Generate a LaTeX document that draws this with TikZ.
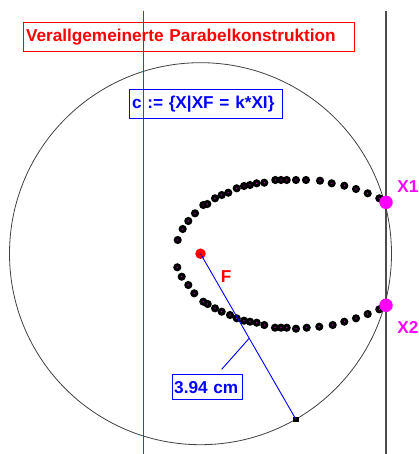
\documentclass[tikz,border=0pt]{standalone}
\usepackage{fontspec}
\setmainfont{Liberation Sans}
\usetikzlibrary{calc}
\definecolor{mag}{RGB}{255,0,255}
\definecolor{myred}{RGB}{255,0,0}
\definecolor{myblue}{RGB}{0,0,255}
\begin{document}
\begin{tikzpicture}[x=1pt,y=-1pt,
  lbl/.style={font=\fontsize{17.2}{19}\selectfont\bfseries, inner sep=0pt},
  boxlbl/.style={lbl, draw, line width=1pt, anchor=north west, align=left, inner xsep=1.5pt},
  hit/.style={circle, fill=mag, inner sep=0pt, minimum size=13.5pt},
]
\useasboundingbox (0,0) rectangle (419,454);
% lines
\draw[myred, line width=1.2pt] (143.5,11) -- (143.5,454);
\draw[black!70, line width=1.8pt] (386,11) -- (386,454);
% circle centred at F
\coordinate (Fc) at (200.5,253.7);
\draw[black!75, line width=0.8pt] (Fc) circle[radius=191];
% text boxes
\node[boxlbl, myred, minimum width=331pt, minimum height=29pt, text width=326pt] (title) at (23,22) {Verallgemeinerte Parabelkonstruktion};
\node[boxlbl, myblue, minimum width=153pt, minimum height=29pt, text width=148pt] (def) at (129,89) {c := \{X|XF = k*XI\}};
% trace dots
\foreach \p in {(177.7,240),(182.7,229),(188.3,221),(195,213.3),(203.3,205),(207.3,204),(215,198.3),(221.7,195),(228.3,192.7),(236.7,188.3),(244,186),(250,185),(256.7,183.3),(264.3,182.7),(275.3,180),(281,180),(286.7,180),(296,180),(306,180),(320,180.7),(331.7,183.3),(344.3,185.7),(356,189),(367.7,193.3),(379.3,198.3),
(177.3,267.3),(181.7,276.7),(188.3,285),(194.3,293.3),(203.3,301.7),(207.7,304),(215,308.3),(221.7,311.7),(230,315),(236.7,318.3),(244,320.7),(250,321.7),(256.7,322.7),(264.3,325),(275,327.7),(281,327.7),(286.7,327.7),(296,328.7),(306.7,327.7),(319.3,326.7),(332.7,325),(344.3,321.7),(356,318.3),(367.7,314),(379.3,309.3)}
  {\fill[black] \p circle[radius=4.1]; \fill[mag] \p circle[radius=0.6];}
% intersection points
\node[hit] (X1) at (386,202.3) {};
\node[hit] (X2) at (386,305.3) {};
\node[lbl, mag] (X1l) at (408,187) {X1};
\node[lbl, mag] (X2l) at (408,327) {X2};
% radius
\node[circle, fill=myred, inner sep=0pt, minimum size=10.5pt] (F) at (Fc) {};
\node[lbl, myred] (Fl) at (226,277) {F};
\node[fill=black, inner sep=0pt, minimum size=5.5pt] (P) at (296,419.5) {};
\draw[myblue, line width=0.9pt] (F.center) -- (P.center);
\coordinate (M) at ($(F.center)!0.51!(P.center)$);
\node[boxlbl, myblue, minimum width=70pt, minimum height=25pt, text width=66pt] (len) at (171.7,374.3) {3.94 cm};
\coordinate (Ls) at (221.7,369.3);
\draw[myblue, line width=0.9pt] (Ls) -- (M);
\end{tikzpicture}
\end{document}
